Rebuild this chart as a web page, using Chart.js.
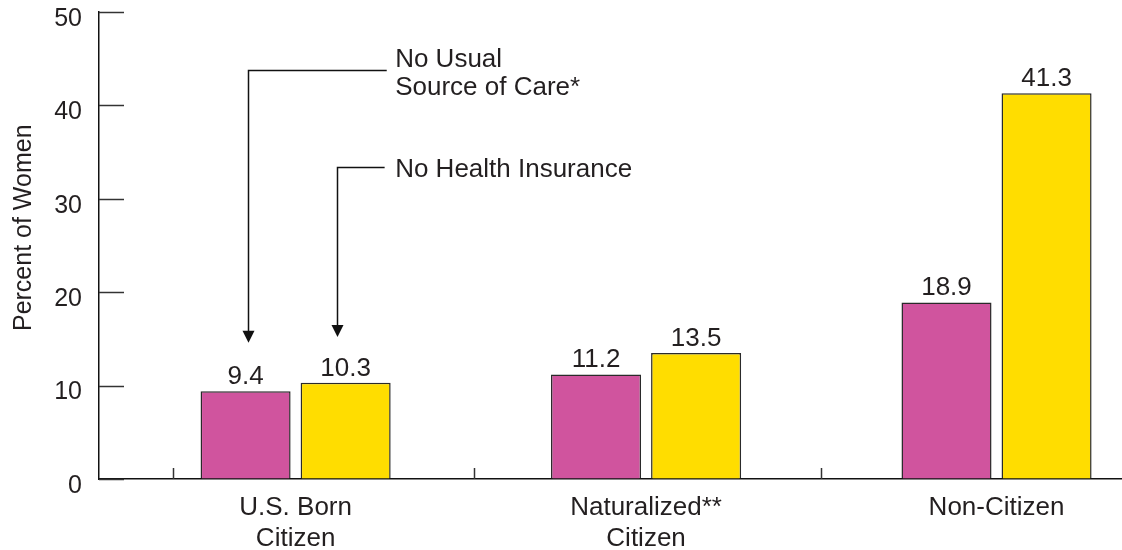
<!DOCTYPE html>
<html>
<head>
<meta charset="utf-8">
<script src="https://cdn.jsdelivr.net/npm/chart.js@4.4.1/dist/chart.umd.min.js"></script>
<style>
  html, body { margin: 0; padding: 0; background: #fff; }
  #wrap { width: 1122px; height: 550px; position: relative; }
</style>
</head>
<body>
<div id="wrap"><canvas id="c" width="1122" height="550"></canvas></div>
<script>
// ---- data ----
const categories = [["U.S. Born", "Citizen"], ["Naturalized**", "Citizen"], ["Non-Citizen"]];
const noUsualSource = [9.4, 11.2, 18.9];
const noInsurance = [10.3, 13.5, 41.3];
const yTicks = [0, 10, 20, 30, 40, 50];
const yTitle = "Percent of Women";
const seriesNames = ["No Usual Source of Care*", "No Health Insurance"];
// category separator tick marks on the x axis (in category units)
const separatorTicks = [-0.35, 0.51, 1.5];
// annotation callouts, in data units (x: category units, y: percent)
const callouts = [
  { lines: ["No Usual", "Source of Care*"], textX: 0.284, textY: [44.1, 41.1], arrowX: -0.136, elbowY: 43.8, elbowX: 0.26, tipY: 14.6 },
  { lines: ["No Health Insurance"], textX: 0.284, textY: [32.3], arrowX: 0.118, elbowY: 33.4, elbowX: 0.254, tipY: 15.2 }
];

const FONT = "Liberation Sans, Arial, Helvetica, sans-serif";
const TEXT = "#231f20";
const magenta = "#d0549e";
const yellow = "#ffdd00";

const decorations = {
  id: "decorations",
  afterDatasetsDraw(chart) {
    const ctx = chart.ctx;
    const xs = chart.scales.x, ys = chart.scales.y;
    const area = chart.chartArea;
    ctx.save();
    // inward y ticks
    ctx.strokeStyle = "#333";
    ctx.lineWidth = 1.5;
    yTicks.forEach(v => {
      const py = Math.round(ys.getPixelForValue(v)) + 0.5;
      ctx.beginPath();
      ctx.moveTo(area.left, py);
      ctx.lineTo(area.left + 25, py);
      ctx.stroke();
    });
    // separator ticks on x axis
    separatorTicks.forEach(v => {
      const px = Math.round(xs.getPixelForValue(v)) + 0.5;
      ctx.beginPath();
      ctx.moveTo(px, area.bottom);
      ctx.lineTo(px, area.bottom - 11);
      ctx.stroke();
    });
    // value labels
    ctx.fillStyle = TEXT;
    ctx.font = "26px " + FONT;
    ctx.textAlign = "center";
    ctx.textBaseline = "alphabetic";
    chart.data.datasets.forEach((ds, di) => {
      const meta = chart.getDatasetMeta(di);
      meta.data.forEach((bar, i) => {
        ctx.fillText(ds.data[i].y.toFixed(1), bar.x, bar.y - 7);
      });
    });
    // callouts
    ctx.strokeStyle = "#111";
    ctx.lineWidth = 1.5;
    ctx.textAlign = "left";
    ctx.font = "26px " + FONT;
    callouts.forEach(c => {
      const ax = Math.round(xs.getPixelForValue(c.arrowX)) + 0.5;
      const ey = Math.round(ys.getPixelForValue(c.elbowY)) + 0.5;
      const ex = xs.getPixelForValue(c.elbowX);
      const ty = ys.getPixelForValue(c.tipY);
      ctx.beginPath();
      ctx.moveTo(ex, ey);
      ctx.lineTo(ax, ey);
      ctx.lineTo(ax, ty - 8);
      ctx.stroke();
      ctx.beginPath();
      ctx.moveTo(ax - 6, ty - 12);
      ctx.lineTo(ax + 6, ty - 12);
      ctx.lineTo(ax, ty);
      ctx.closePath();
      ctx.fillStyle = "#111";
      ctx.fill();
      ctx.fillStyle = TEXT;
      c.lines.forEach((ln, k) => {
        ctx.fillText(ln, xs.getPixelForValue(c.textX), ys.getPixelForValue(c.textY[k]));
      });
    });
    // y axis title
    ctx.save();
    ctx.translate(24, ys.getPixelForValue(26.9));
    ctx.rotate(-Math.PI / 2);
    ctx.textAlign = "center";
    ctx.textBaseline = "middle";
    ctx.font = "25px " + FONT;
    ctx.fillText(yTitle, 0, 0);
    ctx.restore();
    ctx.restore();
  }
};

new Chart(document.getElementById("c"), {
  type: "bar",
  data: {
    datasets: [
      { label: seriesNames[0], data: noUsualSource.map((v, i) => ({ x: i, y: v })), backgroundColor: magenta, borderColor: "#2a2a2a", borderWidth: 1.5 },
      { label: seriesNames[1], data: noInsurance.map((v, i) => ({ x: i, y: v })), backgroundColor: yellow, borderColor: "#2a2a2a", borderWidth: 1.5 }
    ]
  },
  options: {
    responsive: false,
    animation: false,
    devicePixelRatio: 1,
    layout: { padding: { top: 12, right: 0, left: 0, bottom: 0 } },
    categoryPercentage: 0.571,
    barPercentage: 0.9,
    plugins: { legend: { display: false }, tooltip: { enabled: false }, title: { display: false } },
    scales: {
      x: {
        type: "linear",
        min: -0.561,
        max: 2.358,
        offset: false,
        afterFit: s => { s.height = 71; s.paddingLeft = 0; s.paddingRight = 0; },
        afterBuildTicks: s => { s.ticks = categories.map((c, i) => ({ value: i })); },
        grid: { display: true, drawOnChartArea: false, drawTicks: false, offset: false },
        border: { display: true, color: "#111", width: 1.5 },
        ticks: {
          autoSkip: false, maxRotation: 0, padding: 13,
          color: TEXT, font: { family: FONT, size: 26, lineHeight: 1.2 },
          callback: v => categories[v]
        }
      },
      y: {
        min: 0, max: 50,
        afterFit: s => { s.width = 99; s.paddingTop = 0; s.paddingBottom = 0; },
        afterBuildTicks: s => { s.ticks = yTicks.map(v => ({ value: v })); },
        grid: { display: true, drawOnChartArea: false, drawTicks: false },
        border: { display: true, color: "#111", width: 1.5 },
        ticks: { padding: 17, labelOffset: 7, color: TEXT, font: { family: FONT, size: 25 } }
      }
    }
  },
  plugins: [decorations]
});
</script>
</body>
</html>
